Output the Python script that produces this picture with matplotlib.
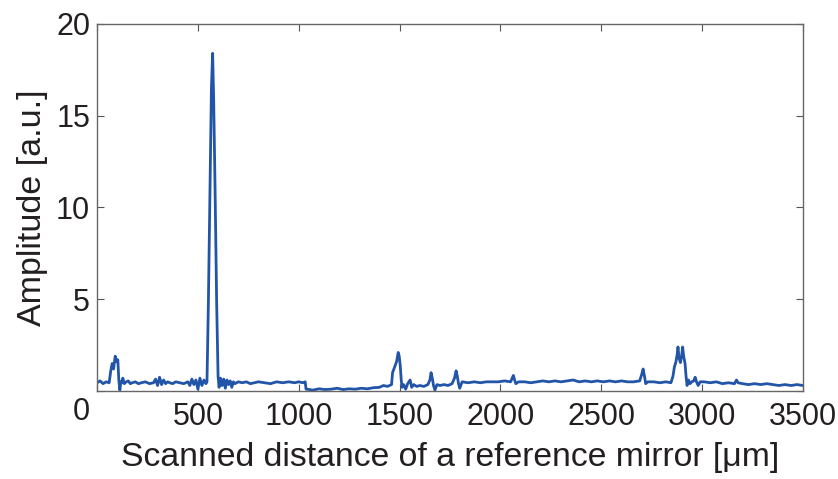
import matplotlib
matplotlib.use("Agg")
import matplotlib.pyplot as plt

plt.rcParams['font.family'] = ['Liberation Sans', 'DejaVu Sans']

# Scanned distance [um] and amplitude [a.u.]
dist = [0, 15, 30, 45, 60, 68, 75, 82, 90, 97, 103, 108, 113, 118, 122, 128,
        135, 145, 155, 165, 175, 190, 205, 220, 240, 260, 280, 290, 300, 310,
        320, 330, 340, 350, 360, 375, 390, 410, 430, 450, 460, 470, 480, 490,
        500, 510, 520, 530, 540, 545, 552, 560, 567, 573, 578, 585, 593, 600,
        605, 612, 620, 628, 636, 644, 652, 660, 668, 676, 684, 692, 700, 720,
        740, 760, 780, 800, 830, 860, 890, 920, 950, 980, 1000, 1020, 1032,
        1036, 1040, 1070, 1100, 1130, 1160, 1190, 1220, 1250, 1280, 1310, 1340,
        1370, 1400, 1420, 1440, 1460, 1465, 1475, 1485, 1493, 1498, 1503, 1508,
        1512, 1520, 1530, 1540, 1552, 1560, 1570, 1585, 1600, 1620, 1640, 1650,
        1656, 1662, 1668, 1675, 1685, 1700, 1720, 1740, 1760, 1772, 1780, 1786,
        1792, 1798, 1810, 1840, 1870, 1900, 1930, 1960, 1990, 2020, 2050, 2058,
        2064, 2070, 2076, 2090, 2120, 2150, 2180, 2210, 2240, 2270, 2300, 2330,
        2360, 2390, 2420, 2450, 2480, 2510, 2540, 2570, 2600, 2630, 2660, 2690,
        2700, 2707, 2714, 2720, 2730, 2760, 2790, 2820, 2845, 2855, 2862, 2870,
        2876, 2880, 2885, 2892, 2898, 2903, 2908, 2915, 2920, 2925, 2932, 2940,
        2948, 2958, 2965, 2972, 2980, 2990, 3010, 3040, 3070, 3100, 3130, 3160,
        3170, 3178, 3200, 3230, 3260, 3290, 3320, 3350, 3380, 3410, 3440, 3470,
        3500]
amp = [0.45, 0.55, 0.4, 0.5, 0.45, 1.1, 1.5, 1.2, 1.9, 1.6, 1.7, 0.6, 0.05,
       0.5, 0.45, 0.7, 0.4, 0.5, 0.55, 0.4, 0.45, 0.5, 0.4, 0.45, 0.5, 0.4,
       0.45, 0.65, 0.3, 0.75, 0.35, 0.6, 0.4, 0.5, 0.45, 0.4, 0.5, 0.45, 0.4,
       0.5, 0.3, 0.65, 0.35, 0.6, 0.1, 0.7, 0.3, 0.6, 0.4, 0.5, 4.8, 11.1,
       16.5, 18.4, 16.0, 11.1, 4.8, 0.8, 0.2, 0.7, 0.3, 0.65, 0.15, 0.6, 0.35,
       0.55, 0.2, 0.5, 0.4, 0.45, 0.5, 0.45, 0.5, 0.4, 0.45, 0.5, 0.45, 0.4,
       0.5, 0.45, 0.5, 0.45, 0.5, 0.45, 0.5, 0.1, 0.1, 0.05, 0.12, 0.08, 0.1,
       0.15, 0.08, 0.12, 0.1, 0.15, 0.12, 0.18, 0.2, 0.3, 0.25, 0.35, 1.0,
       1.3, 1.6, 2.1, 1.9, 1.4, 0.6, 0.2, 0.35, 0.1, 0.4, 0.6, 0.2, 0.35,
       0.25, 0.3, 0.25, 0.35, 0.6, 1.0, 0.7, 0.3, 0.05, 0.35, 0.3, 0.35, 0.3,
       0.4, 0.7, 1.1, 0.8, 0.4, 0.15, 0.5, 0.45, 0.5, 0.45, 0.5, 0.5, 0.5,
       0.55, 0.5, 0.7, 0.85, 0.6, 0.4, 0.5, 0.5, 0.45, 0.5, 0.55, 0.5, 0.55,
       0.5, 0.55, 0.6, 0.5, 0.55, 0.5, 0.55, 0.5, 0.55, 0.5, 0.55, 0.5, 0.5,
       0.55, 0.9, 1.2, 0.8, 0.4, 0.5, 0.5, 0.45, 0.5, 0.45, 0.8, 1.3, 1.6,
       2.0, 2.4, 1.8, 1.55, 1.9, 2.4, 1.9, 1.5, 0.8, 0.3, 0.6, 0.4, 0.5, 0.55,
       0.75, 0.5, 0.3, 0.5, 0.5, 0.45, 0.5, 0.4, 0.45, 0.4, 0.6, 0.45, 0.4,
       0.35, 0.4, 0.35, 0.4, 0.35, 0.3, 0.35, 0.3, 0.35, 0.3]

x_ticks = [0, 500, 1000, 1500, 2000, 2500, 3000, 3500]
y_ticks = [0, 5, 10, 15, 20]

txt = '#231f20'
fig = plt.figure(figsize=(8.38, 4.79), dpi=100)
ax = fig.add_axes([0.1158, 0.1837, 0.8425, 0.7663])

ax.plot(dist, amp, color='#2255a8', lw=2.0)

ax.set_xlim(0, 3500)
ax.set_ylim(0, 20)
ax.set_xticks(x_ticks)
ax.set_xticklabels([''] + [str(v) for v in x_ticks[1:]])
ax.set_yticks(y_ticks)
ax.set_yticklabels([''] + [str(v) for v in y_ticks[1:]])
ax.tick_params(direction='in', length=5, width=0.8, color='#555555',
               top=True, right=True, labelsize=22, labelcolor=txt)
ax.tick_params(axis='x', pad=8)
ax.tick_params(axis='y', pad=5)
for s in ax.spines.values():
    s.set_color('#666666')
    s.set_linewidth(1.0)

# lone "0" sits below-left of the origin in the original
ax.text(-0.0227, -0.057, '0', transform=ax.transAxes, ha='center',
        va='center', fontsize=22, color=txt)

ax.set_xlabel('Scanned distance of a reference mirror [μm]', fontsize=24.3,
              color=txt, labelpad=7)
ax.set_ylabel('Amplitude [a.u.]', fontsize=24.5, color=txt, labelpad=6)

fig.savefig('out.png', dpi=100)
